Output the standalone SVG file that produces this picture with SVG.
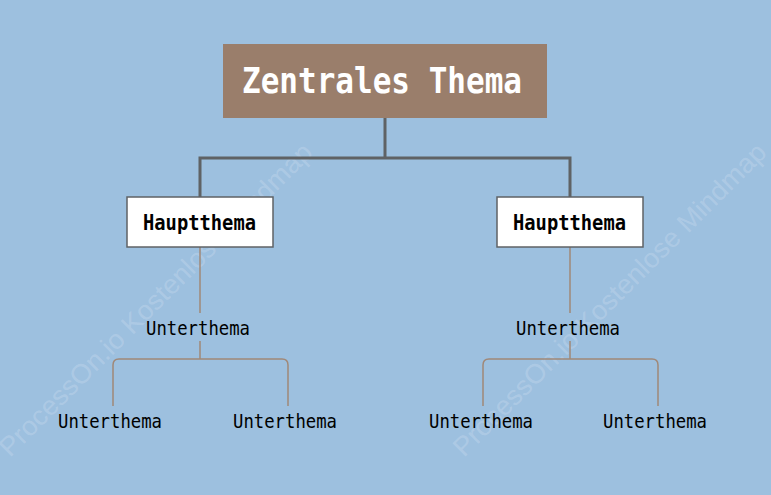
<svg xmlns="http://www.w3.org/2000/svg" width="771" height="495" viewBox="0 0 771 495">
<style>
.wm{font-family:"Liberation Sans",Arial,sans-serif;font-size:27px;fill:#ffffff;fill-opacity:0.18}
.root{font-family:"DejaVu Sans Mono","Liberation Mono",monospace;font-size:36px;font-weight:bold;fill:#ffffff}
.main{font-family:"DejaVu Sans Mono","Liberation Mono",monospace;font-size:21px;font-weight:bold;fill:#000000}
.sub{font-family:"DejaVu Sans Mono","Liberation Mono",monospace;font-size:19px;fill:#000000}
.c1{fill:none;stroke:#5f6265;stroke-width:3}
.c2{fill:none;stroke:#a08878;stroke-width:1.5}
.box{fill:#ffffff;stroke:#5f6265;stroke-width:1.5}
</style>
<rect width="771" height="495" fill="#9dc0df"/>
<g id="watermarks">
<text class="wm" transform="translate(10,458) rotate(-45)" textLength="430" lengthAdjust="spacingAndGlyphs">ProcessOn.io Kostenlose Mindmap</text>
<text class="wm" transform="translate(464,458) rotate(-45)" textLength="430" lengthAdjust="spacingAndGlyphs">ProcessOn.io Kostenlose Mindmap</text>
</g>
<g id="connectors">
<path class="c1" d="M385,118 V158 M200,198 V158 H570 V198"/>
<path class="c2" d="M200,247 V313 M200,341 V359 M113,406 V365 Q113,359 119,359 H282 Q288,359 288,365 V406"/>
<path class="c2" d="M570,247 V313 M570,341 V359 M483,406 V365 Q483,359 489,359 H652 Q658,359 658,365 V406"/>
</g>
<g id="root">
<rect x="223" y="44" width="324" height="74" fill="#9a7e6b"/>
<text class="root" x="242" y="93" textLength="280" lengthAdjust="spacingAndGlyphs">Zentrales Thema</text>
</g>
<g id="main1">
<rect class="box" x="127" y="197" width="146" height="50"/>
<text class="main" x="143" y="230" textLength="113" lengthAdjust="spacingAndGlyphs">Hauptthema</text>
</g>
<g id="main2">
<rect class="box" x="497" y="197" width="146" height="50"/>
<text class="main" x="513" y="230" textLength="113" lengthAdjust="spacingAndGlyphs">Hauptthema</text>
</g>
<g id="sub1"><text class="sub" x="146" y="335" textLength="104" lengthAdjust="spacingAndGlyphs">Unterthema</text></g>
<g id="sub2"><text class="sub" x="516" y="335" textLength="104" lengthAdjust="spacingAndGlyphs">Unterthema</text></g>
<g id="leaf1"><text class="sub" x="58" y="428" textLength="104" lengthAdjust="spacingAndGlyphs">Unterthema</text></g>
<g id="leaf2"><text class="sub" x="233" y="428" textLength="104" lengthAdjust="spacingAndGlyphs">Unterthema</text></g>
<g id="leaf3"><text class="sub" x="429" y="428" textLength="104" lengthAdjust="spacingAndGlyphs">Unterthema</text></g>
<g id="leaf4"><text class="sub" x="603" y="428" textLength="104" lengthAdjust="spacingAndGlyphs">Unterthema</text></g>
</svg>
